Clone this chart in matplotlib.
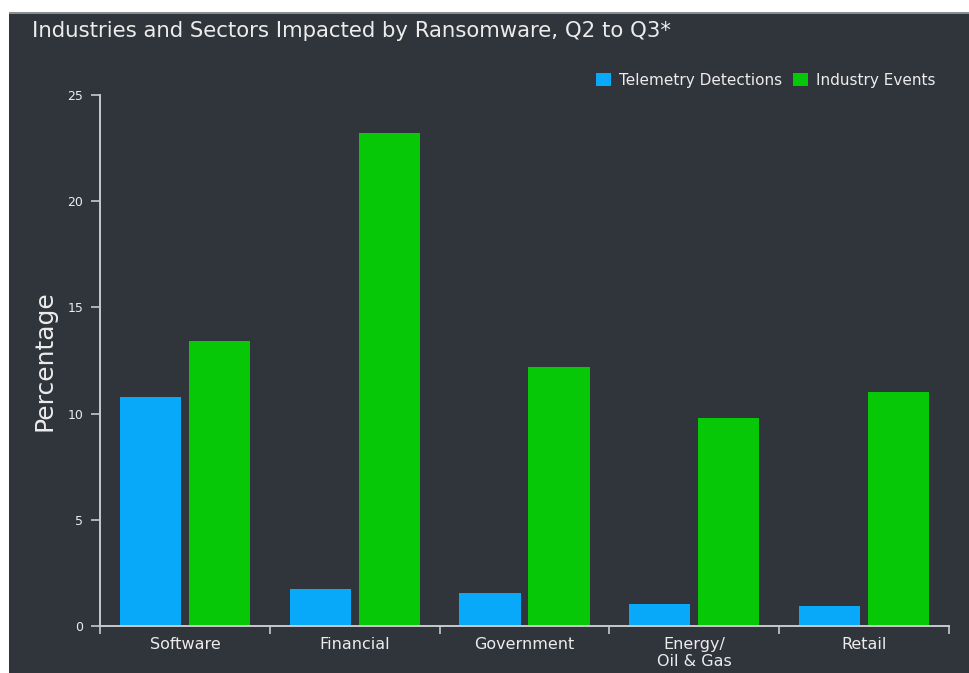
import numpy as np
import matplotlib
matplotlib.use('Agg')
import matplotlib.pyplot as plt
from matplotlib.patches import Rectangle

BG_COLOR = '#30343b'
AXIS_COLOR = '#c9cacc'
TEXT_COLOR = '#ececec'
BLUE = '#07a9f8'
GREEN = '#06c806'

categories = ['Software', 'Financial', 'Government', 'Energy/\nOil & Gas', 'Retail']
telemetry = [10.8, 1.75, 1.55, 1.05, 0.95]
industry = [13.4, 23.2, 12.2, 9.8, 11.0]
yticks = [0, 5, 10, 15, 20, 25]

plt.rcParams['font.family'] = ['DejaVu Sans']

fig = plt.figure(figsize=(9.7, 6.73), dpi=100, facecolor='white')

# dark panel behind the whole chart (white strip left and top)
fig.patches.append(Rectangle((9 / 970, 0), 1, 661 / 673, transform=fig.transFigure,
                             facecolor=BG_COLOR, edgecolor='none', zorder=-10))
fig.patches.append(Rectangle((9 / 970, 659 / 673), 1, 2 / 673, transform=fig.transFigure,
                             facecolor='#8a8d92', edgecolor='none', zorder=-9))

ax = fig.add_axes([100 / 970, 47 / 673, 849 / 970, 531 / 673])
ax.set_facecolor('none')

x = np.arange(len(categories))
width = 0.36
ax.bar(x - 0.203, telemetry, width, color=BLUE, label='Telemetry Detections')
ax.bar(x + 0.203, industry, width, color=GREEN, label='Industry Events')

ax.set_xlim(-0.5, len(categories) - 0.5)
ax.set_ylim(0, 25)
ax.set_yticks(yticks)

# category boundaries carry the tick marks, labels sit at centres
ax.set_xticks(np.arange(len(categories) + 1) - 0.5)
ax.set_xticklabels([])
ax.set_xticks(x, minor=True)
ax.set_xticklabels(categories, minor=True, fontsize=11.5, color=TEXT_COLOR,
                   linespacing=1.15, va='top')
ax.tick_params(axis='x', which='minor', length=0, pad=8)
ax.tick_params(axis='x', which='major', length=6, width=1.2, color=AXIS_COLOR)
ax.tick_params(axis='y', length=6.5, width=1.2, color=AXIS_COLOR, labelsize=9,
               labelcolor=TEXT_COLOR, pad=5.5)

for side in ['top', 'right']:
    ax.spines[side].set_visible(False)
for side in ['left', 'bottom']:
    ax.spines[side].set_color(AXIS_COLOR)
    ax.spines[side].set_linewidth(1.4)

ax.set_ylabel('Percentage', fontsize=18, color=TEXT_COLOR, labelpad=8)

fig.text(32 / 970, 1 - 31 / 673, 'Industries and Sectors Impacted by Ransomware, Q2 to Q3*',
         fontsize=15.3, color=TEXT_COLOR, va='center', ha='left')

leg = ax.legend(loc='upper right', bbox_to_anchor=(1.0, 1.068), ncol=2, frameon=False,
                fontsize=11, labelcolor=TEXT_COLOR, handlelength=1.0, handleheight=1.0,
                handletextpad=0.5, columnspacing=0.7)

fig.savefig('out.png', dpi=100, facecolor='white')
